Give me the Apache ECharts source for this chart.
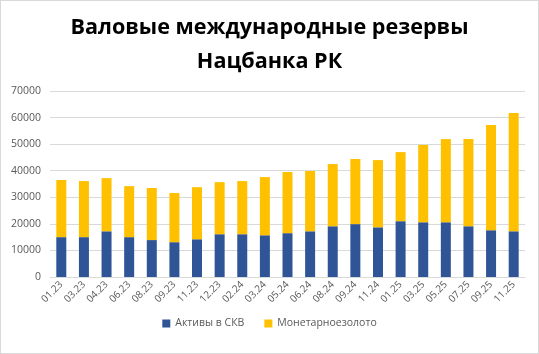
<!DOCTYPE html>
<html><head><meta charset="utf-8">
<script src="https://cdn.jsdelivr.net/npm/echarts@6/dist/echarts.min.js"></script>
<style>html,body{margin:0;padding:0;background:#fff}
#c{width:537px;height:352px;border:1px solid #d9d9d9}</style>
</head><body><div id="c"></div>
<script>
const categories = ['01.23','03.23','04.23','06.23','08.23','09.23','11.23','12.23','02.24','03.24','05.24','06.24','08.24','09.24','11.24','01.25','03.25','05.25','07.25','09.25','11.25'];
const assetsFX = [15000,15000,17200,15000,13900,13100,14200,16100,16100,15700,16500,17200,19100,19900,18700,21000,20600,20600,19100,17600,17200];
const monetaryGold = [21500,21100,20000,19200,19600,18500,19600,19600,20000,21900,23000,22700,23400,24500,25300,26000,29100,31300,32800,39600,44500];
const yTicks = [0,10000,20000,30000,40000,50000,60000,70000];

const chart = echarts.init(document.getElementById('c'));
chart.setOption({
  animation:false,
  title:{text:'Валовые международные резервы\nНацбанка РК',left:'center',top:5,
    textStyle:{fontFamily:'Open Sans',fontWeight:'bold',fontSize:21.6,color:'#000',lineHeight:34}},
  grid:{left:49,right:13,top:90,bottom:76},
  legend:{bottom:19,left:'center',itemWidth:8,itemHeight:8,itemGap:20,icon:'rect',
    textStyle:{fontFamily:'Open Sans',fontSize:10.5,color:'#595959'},
    data:['Активы в СКВ','Монетарноезолото']},
  xAxis:{type:'category',data:categories,
    axisLine:{lineStyle:{color:'#d9d9d9'}},axisTick:{show:false},
    axisLabel:{rotate:45,interval:0,fontFamily:'Open Sans',fontSize:10,color:'#595959',margin:6}},
  yAxis:{type:'value',min:yTicks[0],max:yTicks[yTicks.length-1],interval:10000,
    axisLabel:{fontFamily:'Open Sans',fontSize:10.5,color:'#595959',margin:9,formatter:v=>String(v)},
    splitLine:{lineStyle:{color:'#d9d9d9'}},axisLine:{show:false},axisTick:{show:false}},
  series:[
    {name:'Активы в СКВ',type:'bar',stack:'a',data:assetsFX,barWidth:10,itemStyle:{color:'#2F5597'}},
    {name:'Монетарноезолото',type:'bar',stack:'a',data:monetaryGold,barWidth:10,itemStyle:{color:'#FFC000'}}
  ]
});
</script></body></html>
